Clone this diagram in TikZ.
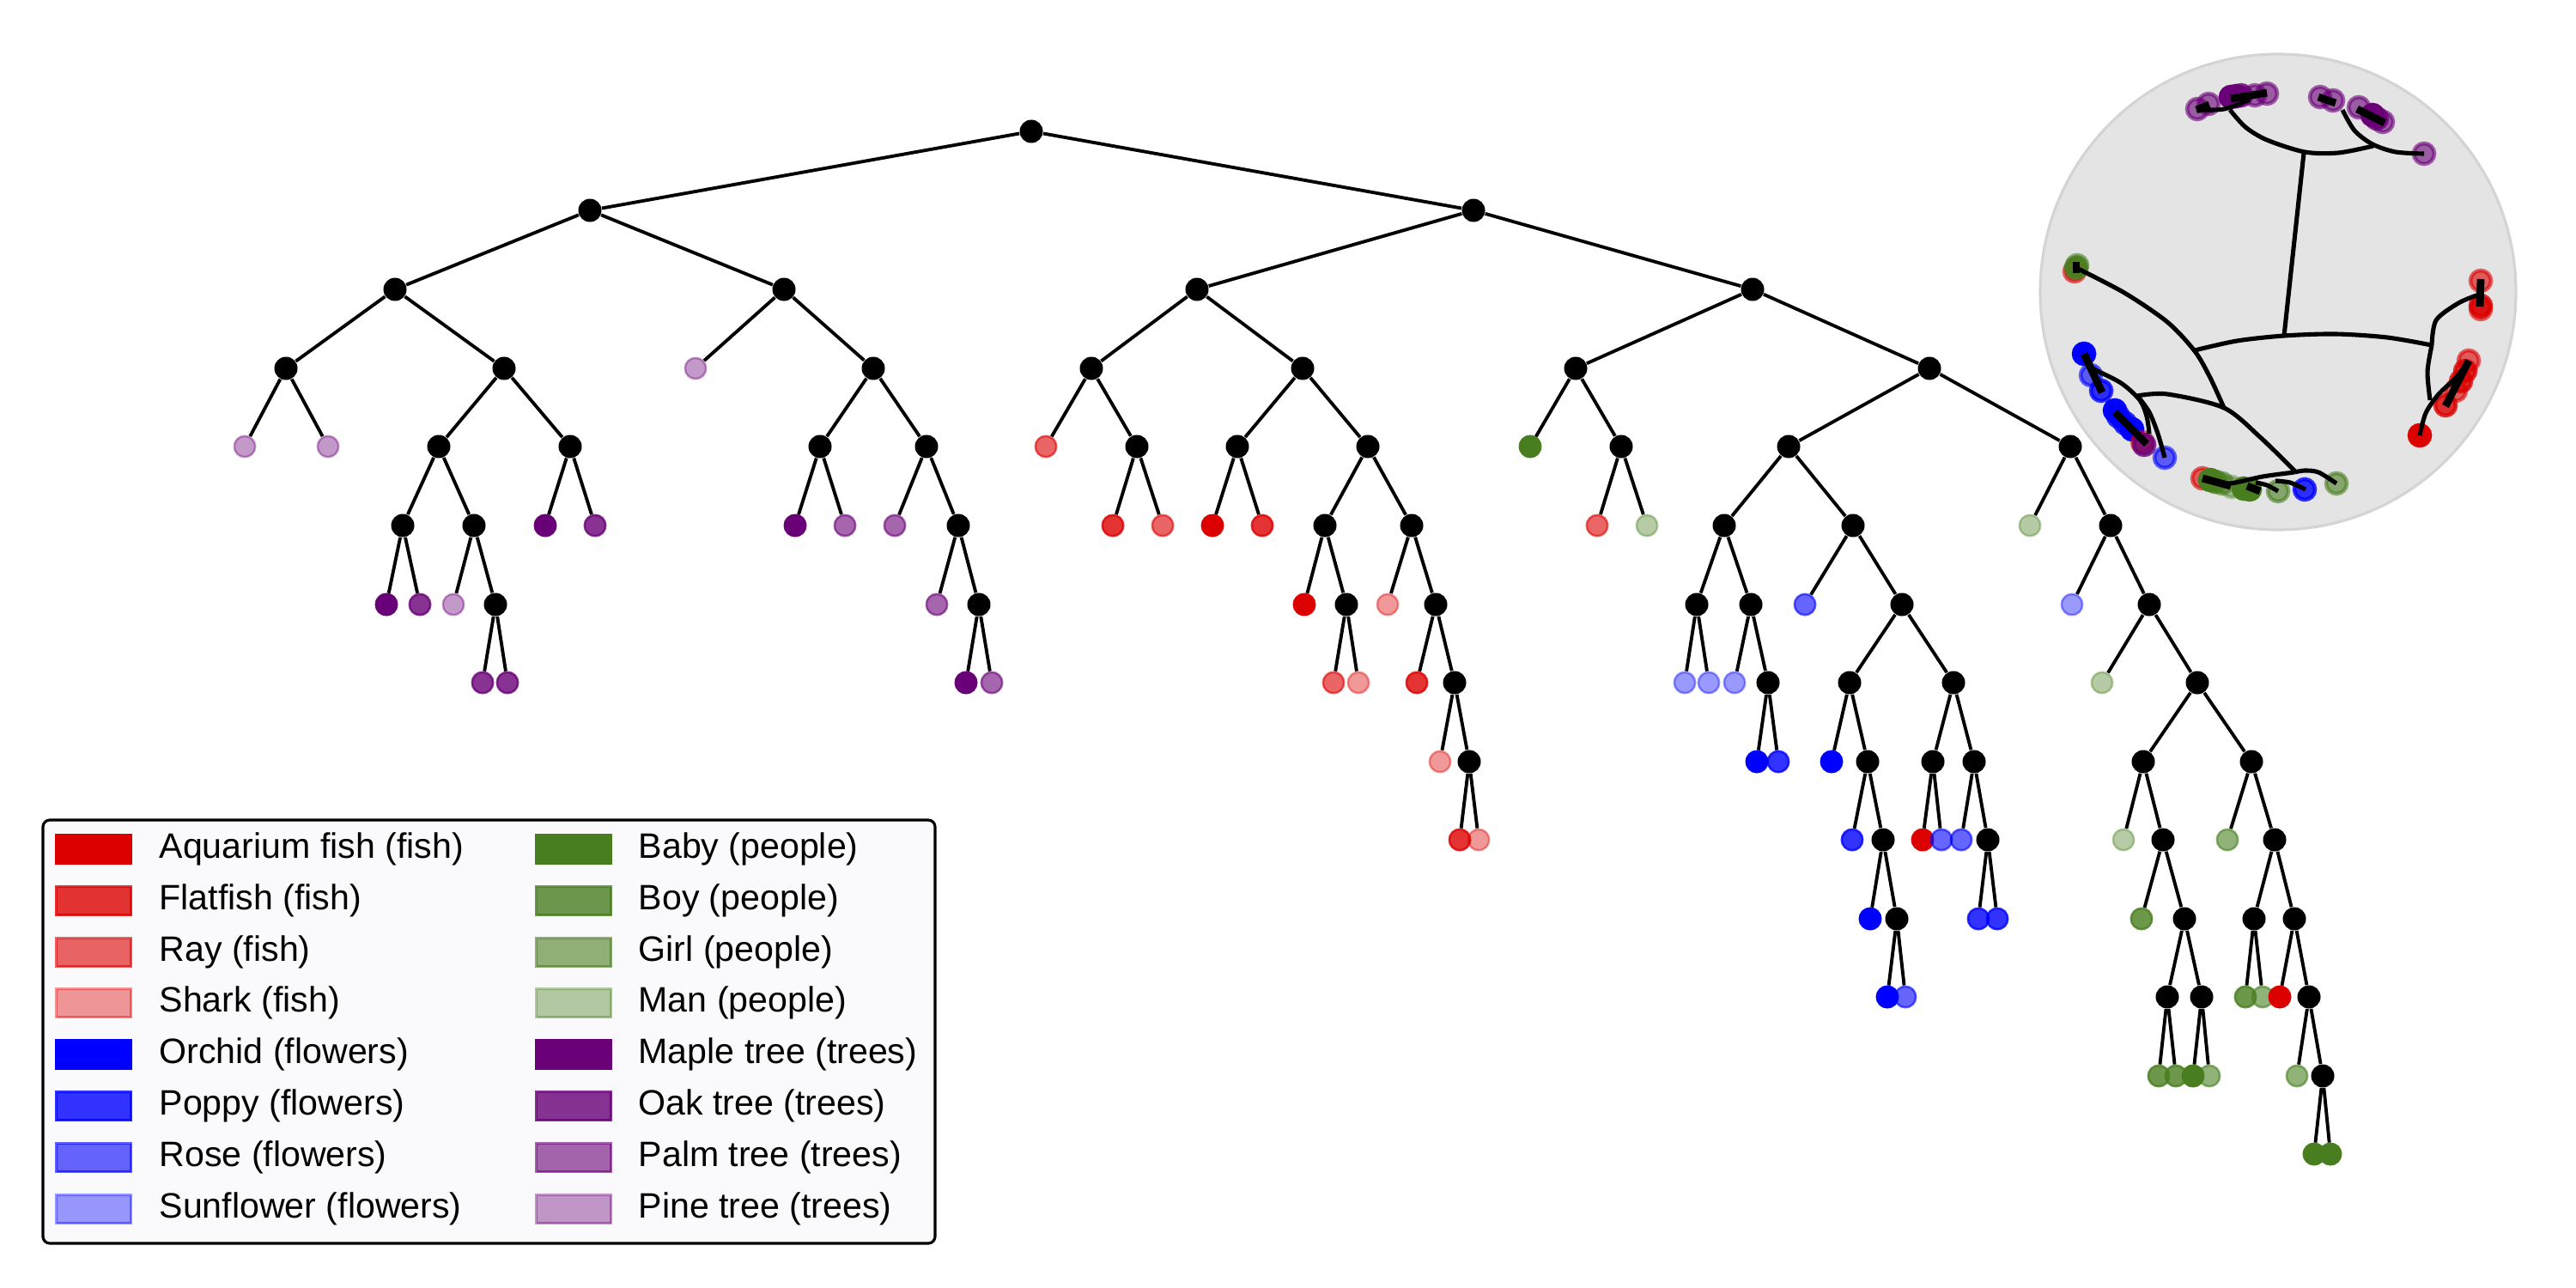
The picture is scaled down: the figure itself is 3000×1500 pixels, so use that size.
\documentclass[tikz,border=0pt]{standalone}
\usepackage{fontspec}
\newfontfamily\lgf{Liberation Sans}
\definecolor{cfish}{RGB}{220,0,0}
\definecolor{cflow}{RGB}{0,0,255}
\definecolor{cpeop}{RGB}{72,126,31}
\definecolor{ctree}{RGB}{106,0,120}
\definecolor{insetbg}{RGB}{228,228,228}
\definecolor{insetbd}{RGB}{212,212,212}
\definecolor{legbg}{RGB}{250,250,252}
\tikzset{
 inode/.style={circle,fill=black,inner sep=0pt,minimum size=0.27cm},
 lf/.style 2 args={circle,inner sep=0pt,minimum size=0.245cm,line width=0.7pt,fill=#1,draw=#1,fill opacity=#2,draw opacity=#2},
 aq/.style={lf={cfish}{1}}, ff/.style={lf={cfish}{0.8}}, ry/.style={lf={cfish}{0.6}}, sh/.style={lf={cfish}{0.4}},
 or/.style={lf={cflow}{1}}, pp/.style={lf={cflow}{0.8}}, rs/.style={lf={cflow}{0.6}}, sf/.style={lf={cflow}{0.4}},
 bb/.style={lf={cpeop}{1}}, by/.style={lf={cpeop}{0.8}}, gl/.style={lf={cpeop}{0.6}}, mn/.style={lf={cpeop}{0.4}},
 mp/.style={lf={ctree}{1}}, ok/.style={lf={ctree}{0.8}}, pm/.style={lf={ctree}{0.6}}, pn/.style={lf={ctree}{0.4}},
 ibig/.style={minimum size=0.24cm,line width=1.3pt},
 tedge/.style={line width=1.1pt,black},
 iarc/.style={line width=1.45pt,black},
 seg/.style={line width=2.5pt,black},
 lpatch/.style 2 args={fill=#1,draw=#1,fill opacity=#2,draw opacity=#2,line width=0.6pt,minimum width=0.87cm,minimum height=0.33cm,inner sep=0pt},
 ltext/.style={anchor=west,inner sep=0pt,font={\lgf\fontsize{11.7}{14}\selectfont}},
}
\begin{document}
\begin{tikzpicture}[x=0.1mm,y=-0.1mm]
\useasboundingbox (0,0) rectangle (3000,1500);
% ---------- internal nodes ----------
\node[inode] (r) at (1201,153) {};
\node[inode] (a) at (687,245) {};
\node[inode] (b) at (1716,245) {};
\node[inode] (a1) at (460,337) {};
\node[inode] (a2) at (913,337) {};
\node[inode] (a11) at (333,429) {};
\node[inode] (a12) at (587,429) {};
\node[inode] (a121) at (511,520) {};
\node[inode] (a122) at (664,520) {};
\node[inode] (a1211) at (469,612) {};
\node[inode] (a1212) at (552,612) {};
\node[inode] (a12122) at (577,704) {};
\node[inode] (a22) at (1017,429) {};
\node[inode] (a221) at (955,520) {};
\node[inode] (a222) at (1079,520) {};
\node[inode] (a2222) at (1116,612) {};
\node[inode] (a22222) at (1140,704) {};
\node[inode] (b1) at (1394,337) {};
\node[inode] (b2) at (2041,337) {};
\node[inode] (b11) at (1271,429) {};
\node[inode] (b12) at (1517,429) {};
\node[inode] (b112) at (1324,520) {};
\node[inode] (b121) at (1441,520) {};
\node[inode] (b122) at (1593,520) {};
\node[inode] (b1221) at (1543,612) {};
\node[inode] (b1222) at (1644,612) {};
\node[inode] (b12212) at (1568,704) {};
\node[inode] (b12222) at (1672,704) {};
\node[inode] (b122222) at (1694,795) {};
\node[inode] (c1) at (1711,887) {};
\node[inode] (b21) at (1835,429) {};
\node[inode] (b22) at (2247,429) {};
\node[inode] (b212) at (1888,520) {};
\node[inode] (b221) at (2083,520) {};
\node[inode] (b222) at (2411,520) {};
\node[inode] (d1) at (2008,612) {};
\node[inode] (d2) at (2158,612) {};
\node[inode] (d11) at (1976,704) {};
\node[inode] (d12) at (2039,704) {};
\node[inode] (d122) at (2059,795) {};
\node[inode] (d22) at (2215,704) {};
\node[inode] (d221) at (2154,795) {};
\node[inode] (d222) at (2275,795) {};
\node[inode] (d2212) at (2175,887) {};
\node[inode] (d22122) at (2193,978) {};
\node[inode] (d221222) at (2209,1070) {};
\node[inode] (d2221) at (2251,887) {};
\node[inode] (d2222) at (2299,887) {};
\node[inode] (d22222) at (2315,978) {};
\node[inode] (e1) at (2458,612) {};
\node[inode] (e2) at (2503,704) {};
\node[inode] (e3) at (2559,795) {};
\node[inode] (f1) at (2496,887) {};
\node[inode] (f2) at (2519,978) {};
\node[inode] (f3) at (2544,1070) {};
\node[inode] (f31) at (2524,1161) {};
\node[inode] (f32) at (2564,1161) {};
\node[inode] (g1) at (2622,887) {};
\node[inode] (g2) at (2649,978) {};
\node[inode] (g21) at (2625,1070) {};
\node[inode] (g22) at (2672,1070) {};
\node[inode] (g222) at (2689,1161) {};
\node[inode] (g2222) at (2705,1253) {};
% ---------- leaves ----------
\node[pn] (x1) at (285,520) {};
\node[pn] (x2) at (382,520) {};
\node[mp] (x3) at (450,704) {};
\node[ok] (x4) at (489,704) {};
\node[pn] (x5) at (528,704) {};
\node[ok] (x6) at (562,795) {};
\node[ok] (x7) at (591,795) {};
\node[mp] (x8) at (635,612) {};
\node[ok] (x9) at (693,612) {};
\node[pn] (x10) at (810,429) {};
\node[mp] (x11) at (926,612) {};
\node[pm] (x12) at (984,612) {};
\node[pm] (x13) at (1042,612) {};
\node[pm] (x14) at (1091,704) {};
\node[mp] (x15) at (1125,795) {};
\node[pm] (x16) at (1155,795) {};
\node[ry] (x17) at (1218,520) {};
\node[ff] (x18) at (1296,612) {};
\node[ry] (x19) at (1354,612) {};
\node[aq] (x20) at (1412,612) {};
\node[ff] (x21) at (1470,612) {};
\node[aq] (x22) at (1519,704) {};
\node[ry] (x23) at (1553,795) {};
\node[sh] (x24) at (1582,795) {};
\node[sh] (x25) at (1616,704) {};
\node[ff] (x26) at (1650,795) {};
\node[sh] (x27) at (1677,887) {};
\node[ff] (x28) at (1700,978) {};
\node[sh] (x29) at (1722,978) {};
\node[bb] (x30) at (1782,520) {};
\node[ry] (x31) at (1860,612) {};
\node[mn] (x32) at (1918,612) {};
\node[sf] (x33) at (1962,795) {};
\node[sf] (x34) at (1990,795) {};
\node[sf] (x35) at (2020,795) {};
\node[or] (x36) at (2046,887) {};
\node[pp] (x37) at (2071,887) {};
\node[rs] (x38) at (2102,704) {};
\node[or] (x39) at (2133,887) {};
\node[pp] (x40) at (2157,978) {};
\node[or] (x41) at (2178,1070) {};
\node[or] (x42) at (2198,1161) {};
\node[rs] (x43) at (2219,1161) {};
\node[aq] (x44) at (2239,978) {};
\node[rs] (x45) at (2261,978) {};
\node[rs] (x46) at (2284,978) {};
\node[pp] (x47) at (2304,1070) {};
\node[pp] (x48) at (2326,1070) {};
\node[mn] (x49) at (2364,612) {};
\node[sf] (x50) at (2413,704) {};
\node[mn] (x51) at (2448,795) {};
\node[mn] (x52) at (2473,978) {};
\node[by] (x53) at (2494,1070) {};
\node[by] (x54) at (2514,1253) {};
\node[by] (x55) at (2534,1253) {};
\node[bb] (x56) at (2554,1253) {};
\node[gl] (x57) at (2573,1253) {};
\node[gl] (x58) at (2594,978) {};
\node[by] (x59) at (2615,1161) {};
\node[gl] (x60) at (2635,1161) {};
\node[aq] (x61) at (2655,1161) {};
\node[gl] (x62) at (2675,1253) {};
\node[bb] (x63) at (2695,1344) {};
\node[bb] (x64) at (2714,1344) {};
% ---------- edges ----------
\foreach \p/\c in {r/a, r/b, a/a1, a/a2, a1/a11, a1/a12, a11/x1, a11/x2, a12/a121, a12/a122,
 a121/a1211, a121/a1212, a1211/x3, a1211/x4, a1212/x5, a1212/a12122, a12122/x6, a12122/x7,
 a122/x8, a122/x9, a2/x10, a2/a22, a22/a221, a22/a222, a221/x11, a221/x12, a222/x13, a222/a2222,
 a2222/x14, a2222/a22222, a22222/x15, a22222/x16,
 b/b1, b/b2, b1/b11, b1/b12, b11/x17, b11/b112, b112/x18, b112/x19, b12/b121, b12/b122,
 b121/x20, b121/x21, b122/b1221, b122/b1222, b1221/x22, b1221/b12212, b12212/x23, b12212/x24,
 b1222/x25, b1222/b12222, b12222/x26, b12222/b122222, b122222/x27, b122222/c1, c1/x28, c1/x29,
 b2/b21, b2/b22, b21/x30, b21/b212, b212/x31, b212/x32, b22/b221, b22/b222, b221/d1, b221/d2,
 d1/d11, d1/d12, d11/x33, d11/x34, d12/x35, d12/d122, d122/x36, d122/x37, d2/x38, d2/d22,
 d22/d221, d22/d222, d221/x39, d221/d2212, d2212/x40, d2212/d22122, d22122/x41, d22122/d221222,
 d221222/x42, d221222/x43, d222/d2221, d222/d2222, d2221/x44, d2221/x45, d2222/x46, d2222/d22222,
 d22222/x47, d22222/x48,
 b222/x49, b222/e1, e1/x50, e1/e2, e2/x51, e2/e3, e3/f1, e3/g1, f1/x52, f1/f2, f2/x53, f2/f3,
 f3/f31, f3/f32, f31/x54, f31/x55, f32/x56, f32/x57, g1/x58, g1/g2, g2/g21, g2/g22, g21/x59,
 g21/x60, g22/x61, g22/g222, g222/x62, g222/g2222, g2222/x63, g2222/x64}
 \draw[tedge] (\p) -- (\c);
% ---------- inset (Poincare disk) ----------
\draw[fill=insetbg,draw=insetbd,line width=0.9pt] (2653,340) circle [radius=2.77cm];
\node[pm,ibig] (i1) at (2559,127) {};
\node[pm,ibig] (i2) at (2572,121) {};
\node[mp,ibig] (i3) at (2598,113) {};
\node[mp,ibig] (i4) at (2604,112) {};
\node[ok,ibig] (i5) at (2610,111) {};
\node[pm,ibig] (i6) at (2626,111) {};
\node[pm,ibig] (i7) at (2640,109) {};
\node[pm,ibig] (i8) at (2702,113) {};
\node[pm,ibig] (i9) at (2717,117) {};
\node[pm,ibig] (i10) at (2747,125) {};
\node[mp,ibig] (i11) at (2763,134) {};
\node[ok,ibig] (i12) at (2768,138) {};
\node[pm,ibig] (i13) at (2775,142) {};
\node[pm,ibig] (i14) at (2823,179) {};
\node[ry,ibig] (i15) at (2416,316) {};
\node[by,ibig] (i16) at (2418,312) {};
\node[gl,ibig] (i17) at (2419,309) {};
\node[or,ibig] (i18) at (2427,412) {};
\node[rs,ibig] (i19) at (2435,437) {};
\node[pp,ibig] (i20) at (2447,455) {};
\node[or,ibig] (i21) at (2463,478) {};
\node[pp,ibig] (i22) at (2467,485) {};
\node[pp,ibig] (i23) at (2475,493) {};
\node[or,ibig] (i24) at (2483,500) {};
\node[ry,ibig] (i25) at (2495,515) {};
\node[ok,ibig] (i26) at (2497,518) {};
\node[rs,ibig] (i27) at (2521,533) {};
\node[ry,ibig] (i28) at (2565,557) {};
\node[bb,ibig] (i29) at (2574,559) {};
\node[by,ibig] (i30) at (2580,561) {};
\node[gl,ibig] (i31) at (2588,563) {};
\node[mn,ibig] (i32) at (2599,567) {};
\node[bb,ibig] (i33) at (2613,569) {};
\node[bb,ibig] (i34) at (2620,570) {};
\node[gl,ibig] (i35) at (2653,572) {};
\node[pp,ibig] (i36) at (2684,570) {};
\node[gl,ibig] (i37) at (2721,563) {};
\node[ry,ibig] (i38) at (2889,327) {};
\node[ff,ibig] (i39) at (2889,356) {};
\node[ry,ibig] (i40) at (2889,360) {};
\node[ry,ibig] (i41) at (2875,420) {};
\node[ff,ibig] (i42) at (2871,432) {};
\node[ff,ibig] (i43) at (2866,444) {};
\node[ry,ibig] (i44) at (2860,455) {};
\node[ff,ibig] (i45) at (2848,472) {};
\node[aq,ibig] (i46) at (2818,507) {};
% arcs
\draw[iarc] (2683,178) -- (2660,391);
\draw[iarc] plot[smooth] coordinates {(2556,408) (2605,397) (2660,391) (2720,389) (2780,393) (2832,402)};
\draw[iarc] plot[smooth] coordinates {(2597,128) (2615,148) (2640,163) (2684,177) (2723,178) (2764,170)};
\draw[iarc] plot[smooth] coordinates {(2728,128) (2742,152) (2763,168) (2790,177) (2823,179)};
\draw[iarc] plot[smooth] coordinates {(2558,128) (2590,127) (2620,116)};
\draw[iarc] plot[smooth] coordinates {(2418,312) (2474,341) (2524,375) (2556,409) (2574,440) (2590,475)};
\draw[iarc] plot[smooth] coordinates {(2489,461) (2524,459) (2590,475) (2632,509) (2673,549)};
\draw[iarc] plot[smooth] coordinates {(2438,430) (2470,446) (2492,466) (2500,485) (2503,505)};
\draw[iarc] plot[smooth] coordinates {(2490,462) (2503,480) (2513,505) (2521,533)};
\draw[iarc] plot[smooth] coordinates {(2672,550) (2684,548) (2700,550) (2721,563)};
\draw[iarc] plot[smooth] coordinates {(2575,560) (2597,563) (2635,555) (2672,550)};
\draw[iarc] plot[smooth] coordinates {(2650,560) (2667,562) (2685,570)};
\draw[iarc] plot[smooth] coordinates {(2627,562) (2640,565) (2653,572)};
\draw[iarc] plot[smooth] coordinates {(2832,402) (2837,373) (2863,353) (2887,343)};
\draw[iarc] plot[smooth] coordinates {(2832,402) (2827,433) (2830,466)};
\draw[iarc] plot[smooth] coordinates {(2818,507) (2825,481) (2840,459) (2858,442) (2875,421)};
\draw[seg] (2558,128) -- (2573,122);
\draw[seg] (2598,115) -- (2640,108);
\draw[seg] (2700,113) -- (2720,120);
\draw[seg] (2745,127) -- (2777,143);
\draw[seg] (2418,305) -- (2418,318);
\draw[seg] (2427,412) -- (2448,457);
\draw[seg] (2463,480) -- (2500,517);
\draw[seg] (2565,557) -- (2598,566);
\draw[seg] (2617,566) -- (2632,572);
\draw[seg] (2889,325) -- (2888,357);
\draw[seg] (2875,420) -- (2848,473);
% ---------- legend ----------
\draw[rounded corners=0.8mm,line width=0.9pt,fill=legbg] (50,955) rectangle (1089,1448);
\node[lpatch={cfish}{1}]   (p1) at (109,989) {};
\node[lpatch={cfish}{0.8}] (p2) at (109,1049) {};
\node[lpatch={cfish}{0.6}] (p3) at (109,1109) {};
\node[lpatch={cfish}{0.4}] (p4) at (109,1168) {};
\node[lpatch={cflow}{1}]   (p5) at (109,1228) {};
\node[lpatch={cflow}{0.8}] (p6) at (109,1288) {};
\node[lpatch={cflow}{0.6}] (p7) at (109,1348) {};
\node[lpatch={cflow}{0.4}] (p8) at (109,1408) {};
\node[lpatch={cpeop}{1}]   (p9) at (668,989) {};
\node[lpatch={cpeop}{0.8}] (p10) at (668,1049) {};
\node[lpatch={cpeop}{0.6}] (p11) at (668,1109) {};
\node[lpatch={cpeop}{0.4}] (p12) at (668,1168) {};
\node[lpatch={ctree}{1}]   (p13) at (668,1228) {};
\node[lpatch={ctree}{0.8}] (p14) at (668,1288) {};
\node[lpatch={ctree}{0.6}] (p15) at (668,1348) {};
\node[lpatch={ctree}{0.4}] (p16) at (668,1408) {};
\node[ltext] (t1) at (185,989) {Aquarium fish (fish)};
\node[ltext] (t2) at (185,1049) {Flatfish (fish)};
\node[ltext] (t3) at (185,1109) {Ray (fish)};
\node[ltext] (t4) at (185,1168) {Shark (fish)};
\node[ltext] (t5) at (185,1228) {Orchid (flowers)};
\node[ltext] (t6) at (185,1288) {Poppy (flowers)};
\node[ltext] (t7) at (185,1348) {Rose (flowers)};
\node[ltext] (t8) at (185,1408) {Sunflower (flowers)};
\node[ltext] (t9) at (743,989) {Baby (people)};
\node[ltext] (t10) at (743,1049) {Boy (people)};
\node[ltext] (t11) at (743,1109) {Girl (people)};
\node[ltext] (t12) at (743,1168) {Man (people)};
\node[ltext] (t13) at (743,1228) {Maple tree (trees)};
\node[ltext] (t14) at (743,1288) {Oak tree (trees)};
\node[ltext] (t15) at (743,1348) {Palm tree (trees)};
\node[ltext] (t16) at (743,1408) {Pine tree (trees)};
\end{tikzpicture}
\end{document}
